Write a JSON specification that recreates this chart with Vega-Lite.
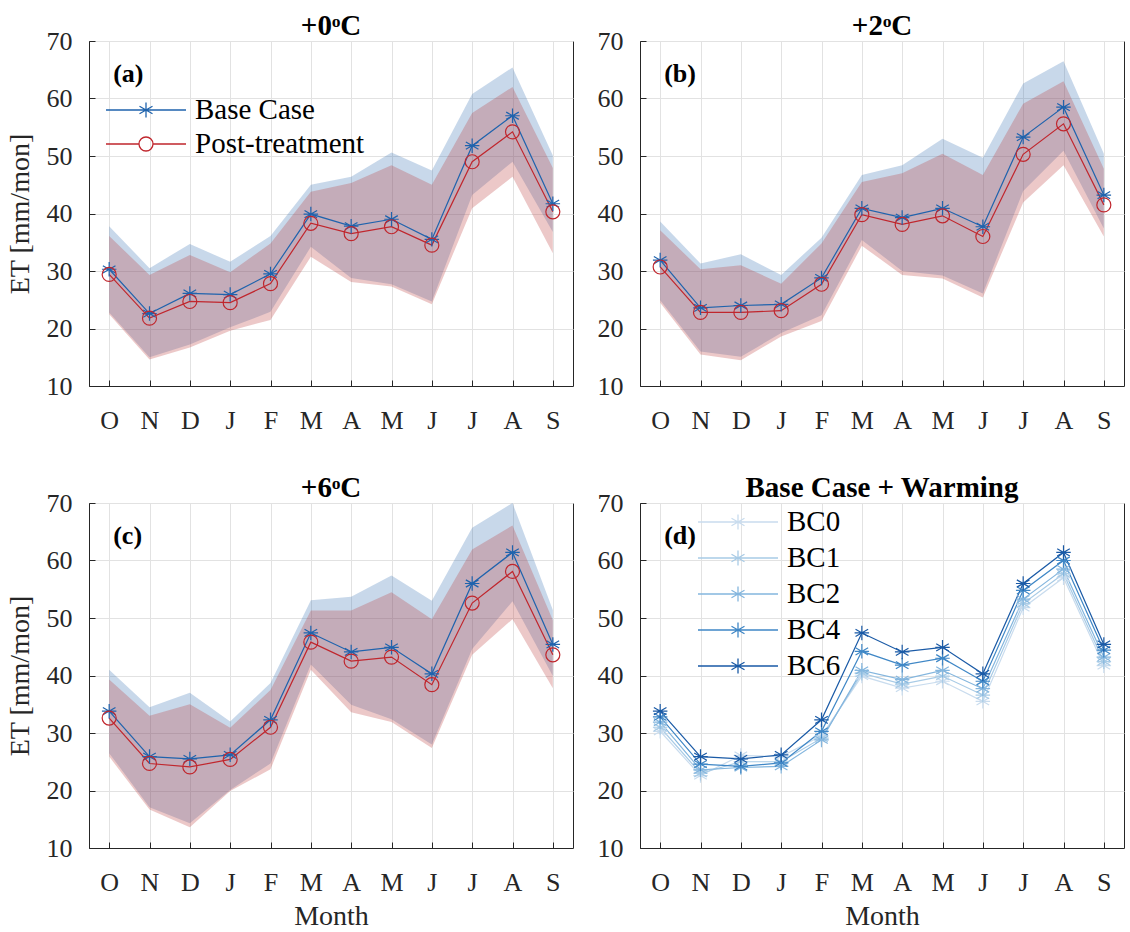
{
  "$schema": "https://vega.github.io/schema/vega-lite/v6.json",
  "padding": {"left": 5, "top": 11, "right": 5, "bottom": 0},
  "background": "white",
  "config": {
    "font": "Liberation Serif",
    "view": {"stroke": "#262626", "strokeWidth": 1},
    "axis": {
      "labelFont": "Liberation Serif", "labelFontSize": 26, "labelColor": "#262626",
      "titleFont": "Liberation Serif", "titleFontSize": 28, "titleFontWeight": "normal", "titleColor": "#262626",
      "domainColor": "#262626", "tickColor": "#262626", "tickSize": -6,
      "gridColor": "#e2e2e2", "gridWidth": 1
    },
    "axisX": {"labelPadding": 27},
    "axisY": {"labelPadding": 23},
    "title": {"font": "Liberation Serif", "fontSize": 29, "fontWeight": "bold", "color": "#000000", "offset": -13, "frame": "group"},
    "legend": {"labelFont": "Liberation Serif, Times New Roman, serif", "labelFontSize": 29, "labelColor": "#000000", "labelLimit": 400, "symbolStrokeWidth": 1.2, "symbolOpacity": 1}
  },
  "datasets": {
    "main": [
      {"p":"a","s":"Base Case","m":1,"v":30.3,"lo":22.8,"hi":37.8},
      {"p":"a","s":"Base Case","m":2,"v":22.6,"lo":15.0,"hi":30.5},
      {"p":"a","s":"Base Case","m":3,"v":26.1,"lo":17.2,"hi":34.7},
      {"p":"a","s":"Base Case","m":4,"v":25.9,"lo":20.2,"hi":31.6},
      {"p":"a","s":"Base Case","m":5,"v":29.5,"lo":22.9,"hi":36.1},
      {"p":"a","s":"Base Case","m":6,"v":39.9,"lo":34.2,"hi":45.0},
      {"p":"a","s":"Base Case","m":7,"v":37.8,"lo":28.8,"hi":46.4},
      {"p":"a","s":"Base Case","m":8,"v":39.0,"lo":27.7,"hi":50.6},
      {"p":"a","s":"Base Case","m":9,"v":35.5,"lo":24.7,"hi":47.5},
      {"p":"a","s":"Base Case","m":10,"v":51.8,"lo":43.2,"hi":60.8},
      {"p":"a","s":"Base Case","m":11,"v":57.0,"lo":49.0,"hi":65.4},
      {"p":"a","s":"Base Case","m":12,"v":41.7,"lo":36.8,"hi":50.1},
      {"p":"a","s":"Post-treatment","m":1,"v":29.4,"lo":22.5,"hi":36.1},
      {"p":"a","s":"Post-treatment","m":2,"v":21.8,"lo":14.6,"hi":29.3},
      {"p":"a","s":"Post-treatment","m":3,"v":24.7,"lo":16.7,"hi":32.8},
      {"p":"a","s":"Post-treatment","m":4,"v":24.5,"lo":19.6,"hi":29.8},
      {"p":"a","s":"Post-treatment","m":5,"v":27.8,"lo":21.5,"hi":34.8},
      {"p":"a","s":"Post-treatment","m":6,"v":38.3,"lo":32.5,"hi":43.8},
      {"p":"a","s":"Post-treatment","m":7,"v":36.5,"lo":28.1,"hi":45.3},
      {"p":"a","s":"Post-treatment","m":8,"v":37.7,"lo":27.3,"hi":48.4},
      {"p":"a","s":"Post-treatment","m":9,"v":34.5,"lo":24.2,"hi":45.0},
      {"p":"a","s":"Post-treatment","m":10,"v":49.0,"lo":40.9,"hi":57.5},
      {"p":"a","s":"Post-treatment","m":11,"v":54.2,"lo":46.4,"hi":62.0},
      {"p":"a","s":"Post-treatment","m":12,"v":40.3,"lo":33.1,"hi":47.9},
      {"p":"b","s":"Base Case","m":1,"v":31.9,"lo":24.9,"hi":38.6},
      {"p":"b","s":"Base Case","m":2,"v":23.6,"lo":16.0,"hi":31.3},
      {"p":"b","s":"Base Case","m":3,"v":24.0,"lo":15.1,"hi":32.9},
      {"p":"b","s":"Base Case","m":4,"v":24.2,"lo":19.2,"hi":29.3},
      {"p":"b","s":"Base Case","m":5,"v":28.8,"lo":22.3,"hi":35.8},
      {"p":"b","s":"Base Case","m":6,"v":40.9,"lo":35.4,"hi":46.7},
      {"p":"b","s":"Base Case","m":7,"v":39.3,"lo":30.0,"hi":48.4},
      {"p":"b","s":"Base Case","m":8,"v":40.9,"lo":29.2,"hi":53.0},
      {"p":"b","s":"Base Case","m":9,"v":37.7,"lo":26.1,"hi":49.7},
      {"p":"b","s":"Base Case","m":10,"v":53.3,"lo":43.9,"hi":62.6},
      {"p":"b","s":"Base Case","m":11,"v":58.5,"lo":50.9,"hi":66.5},
      {"p":"b","s":"Base Case","m":12,"v":43.2,"lo":37.4,"hi":50.4},
      {"p":"b","s":"Post-treatment","m":1,"v":30.7,"lo":24.5,"hi":37.1},
      {"p":"b","s":"Post-treatment","m":2,"v":22.8,"lo":15.5,"hi":30.3},
      {"p":"b","s":"Post-treatment","m":3,"v":22.8,"lo":14.5,"hi":31.0},
      {"p":"b","s":"Post-treatment","m":4,"v":23.1,"lo":18.6,"hi":27.8},
      {"p":"b","s":"Post-treatment","m":5,"v":27.7,"lo":21.3,"hi":34.8},
      {"p":"b","s":"Post-treatment","m":6,"v":39.8,"lo":34.4,"hi":45.5},
      {"p":"b","s":"Post-treatment","m":7,"v":38.1,"lo":29.3,"hi":47.0},
      {"p":"b","s":"Post-treatment","m":8,"v":39.6,"lo":28.7,"hi":50.4},
      {"p":"b","s":"Post-treatment","m":9,"v":36.0,"lo":25.4,"hi":46.7},
      {"p":"b","s":"Post-treatment","m":10,"v":50.3,"lo":41.9,"hi":59.1},
      {"p":"b","s":"Post-treatment","m":11,"v":55.6,"lo":48.4,"hi":63.0},
      {"p":"b","s":"Post-treatment","m":12,"v":41.5,"lo":36.0,"hi":47.8},
      {"p":"c","s":"Base Case","m":1,"v":33.8,"lo":26.5,"hi":41.0},
      {"p":"c","s":"Base Case","m":2,"v":25.9,"lo":17.1,"hi":34.5},
      {"p":"c","s":"Base Case","m":3,"v":25.5,"lo":14.3,"hi":37.0},
      {"p":"c","s":"Base Case","m":4,"v":26.2,"lo":20.1,"hi":32.0},
      {"p":"c","s":"Base Case","m":5,"v":32.3,"lo":24.7,"hi":38.7},
      {"p":"c","s":"Base Case","m":6,"v":47.4,"lo":41.9,"hi":53.1},
      {"p":"c","s":"Base Case","m":7,"v":44.1,"lo":34.9,"hi":53.7},
      {"p":"c","s":"Base Case","m":8,"v":44.9,"lo":32.4,"hi":57.4},
      {"p":"c","s":"Base Case","m":9,"v":40.3,"lo":28.0,"hi":53.0},
      {"p":"c","s":"Base Case","m":10,"v":56.0,"lo":44.6,"hi":65.7},
      {"p":"c","s":"Base Case","m":11,"v":61.4,"lo":52.9,"hi":70.0},
      {"p":"c","s":"Base Case","m":12,"v":45.4,"lo":39.9,"hi":51.4},
      {"p":"c","s":"Post-treatment","m":1,"v":32.6,"lo":25.9,"hi":39.3},
      {"p":"c","s":"Post-treatment","m":2,"v":24.7,"lo":16.7,"hi":33.0},
      {"p":"c","s":"Post-treatment","m":3,"v":24.1,"lo":13.6,"hi":35.0},
      {"p":"c","s":"Post-treatment","m":4,"v":25.4,"lo":19.9,"hi":30.9},
      {"p":"c","s":"Post-treatment","m":5,"v":31.0,"lo":23.7,"hi":37.5},
      {"p":"c","s":"Post-treatment","m":6,"v":45.8,"lo":41.0,"hi":51.3},
      {"p":"c","s":"Post-treatment","m":7,"v":42.5,"lo":33.6,"hi":51.3},
      {"p":"c","s":"Post-treatment","m":8,"v":43.2,"lo":31.9,"hi":54.5},
      {"p":"c","s":"Post-treatment","m":9,"v":38.4,"lo":27.4,"hi":49.8},
      {"p":"c","s":"Post-treatment","m":10,"v":52.6,"lo":43.6,"hi":61.9},
      {"p":"c","s":"Post-treatment","m":11,"v":58.1,"lo":49.8,"hi":66.1},
      {"p":"c","s":"Post-treatment","m":12,"v":43.6,"lo":37.8,"hi":49.6}
    ],
    "warm": [
      {"s":"BC0","m":1,"v":30.3},{"s":"BC0","m":2,"v":22.6},{"s":"BC0","m":3,"v":26.1},{"s":"BC0","m":4,"v":25.9},
      {"s":"BC0","m":5,"v":29.5},{"s":"BC0","m":6,"v":39.9},{"s":"BC0","m":7,"v":37.8},{"s":"BC0","m":8,"v":39.0},
      {"s":"BC0","m":9,"v":35.5},{"s":"BC0","m":10,"v":51.8},{"s":"BC0","m":11,"v":57.0},{"s":"BC0","m":12,"v":41.7},
      {"s":"BC1","m":1,"v":31.0},{"s":"BC1","m":2,"v":23.0},{"s":"BC1","m":3,"v":25.0},{"s":"BC1","m":4,"v":25.0},
      {"s":"BC1","m":5,"v":29.1},{"s":"BC1","m":6,"v":40.4},{"s":"BC1","m":7,"v":38.5},{"s":"BC1","m":8,"v":39.9},
      {"s":"BC1","m":9,"v":36.6},{"s":"BC1","m":10,"v":52.5},{"s":"BC1","m":11,"v":57.7},{"s":"BC1","m":12,"v":42.4},
      {"s":"BC2","m":1,"v":31.9},{"s":"BC2","m":2,"v":23.6},{"s":"BC2","m":3,"v":24.0},{"s":"BC2","m":4,"v":24.2},
      {"s":"BC2","m":5,"v":28.8},{"s":"BC2","m":6,"v":40.9},{"s":"BC2","m":7,"v":39.3},{"s":"BC2","m":8,"v":40.9},
      {"s":"BC2","m":9,"v":37.7},{"s":"BC2","m":10,"v":53.3},{"s":"BC2","m":11,"v":58.5},{"s":"BC2","m":12,"v":43.2},
      {"s":"BC4","m":1,"v":32.8},{"s":"BC4","m":2,"v":24.6},{"s":"BC4","m":3,"v":24.2},{"s":"BC4","m":4,"v":24.8},
      {"s":"BC4","m":5,"v":30.3},{"s":"BC4","m":6,"v":44.2},{"s":"BC4","m":7,"v":41.8},{"s":"BC4","m":8,"v":43.0},
      {"s":"BC4","m":9,"v":39.0},{"s":"BC4","m":10,"v":54.8},{"s":"BC4","m":11,"v":60.0},{"s":"BC4","m":12,"v":44.4},
      {"s":"BC6","m":1,"v":33.8},{"s":"BC6","m":2,"v":25.9},{"s":"BC6","m":3,"v":25.5},{"s":"BC6","m":4,"v":26.2},
      {"s":"BC6","m":5,"v":32.3},{"s":"BC6","m":6,"v":47.4},{"s":"BC6","m":7,"v":44.1},{"s":"BC6","m":8,"v":44.9},
      {"s":"BC6","m":9,"v":40.3},{"s":"BC6","m":10,"v":56.0},{"s":"BC6","m":11,"v":61.4},{"s":"BC6","m":12,"v":45.4}
    ]
  },
  "columns": 2,
  "spacing": {"column": 22, "row": 39},
  "resolve": {
    "scale": {"stroke": "independent", "fill": "independent", "shape": "independent", "x": "independent", "y": "independent"},
    "legend": {"stroke": "independent", "fill": "independent", "shape": "independent"},
    "axis": {"x": "independent", "y": "independent"}
  },
  "concat": [
    {
      "width": 484, "height": 345,
      "title": "+0ᵒC",
      "resolve": {"scale": {"stroke": "independent"}, "legend": {"stroke": "independent"}},
      "layer": [
        {"data": {"name": "main"}, "transform": [{"filter": "datum.p == 'a'"}],
         "mark": {"type": "area", "fillOpacity": 0.28, "strokeWidth": 0},
         "encoding": {
           "x": {"field": "m", "type": "quantitative", "scale": {"domain": [0.5, 12.5], "nice": false},
             "axis": {"values": [1,2,3,4,5,6,7,8,9,10,11,12], "labelExpr": "['O','N','D','J','F','M','A','M','J','J','A','S'][datum.value-1]", "title": null, "grid": true}},
           "y": {"field": "lo", "type": "quantitative", "scale": {"domain": [10, 70], "nice": false}, "axis": {"values": [10,20,30,40,50,60,70], "title": "ET [mm/mon]", "titlePadding": 12}},
           "y2": {"field": "hi"},
           "fill": {"field": "s", "type": "nominal", "scale": {"domain": ["Base Case", "Post-treatment"], "range": ["#3a74b4", "#bb3b3b"]}, "legend": null}}},
        {"data": {"name": "main"}, "transform": [{"filter": "datum.p == 'a' && datum.s == 'Base Case'"}],
         "mark": {"type": "line", "strokeWidth": 1.2},
         "encoding": {
           "x": {"field": "m", "type": "quantitative"},
           "y": {"field": "v", "type": "quantitative", "axis": {"title": "ET [mm/mon]"}},
           "stroke": {"field": "s", "type": "nominal", "scale": {"domain": ["Base Case"], "range": ["#1f63ad"]},
             "legend": {"title": null, "orient": "none", "legendX": 36, "legendY": 48, "symbolSize": 1600, "labelOffset": 28, "symbolFillColor": "transparent", "symbolOpacity": 1, "symbolStrokeWidth": 1.3,
               "labelFont": "Liberation Serif, Times New Roman, serif", "labelFontSize": 29, "labelColor": "#000000", "labelLimit": 400,
               "symbolType": "M-2,0H2M0,-0.375V0.375M-0.325,-0.19L0.325,0.19M-0.325,0.19L0.325,-0.19"}}}},
        {"data": {"name": "main"}, "transform": [{"filter": "datum.p == 'a' && datum.s == 'Post-treatment'"}],
         "mark": {"type": "line", "strokeWidth": 1.2},
         "encoding": {
           "x": {"field": "m", "type": "quantitative"},
           "y": {"field": "v", "type": "quantitative", "axis": {"title": "ET [mm/mon]"}},
           "stroke": {"field": "s", "type": "nominal", "scale": {"domain": ["Post-treatment"], "range": ["#c0262d"]},
             "legend": {"title": null, "orient": "none", "legendX": 36, "legendY": 82, "symbolSize": 1600, "labelOffset": 28, "symbolFillColor": "transparent", "symbolOpacity": 1, "symbolStrokeWidth": 1.3,
               "labelFont": "Liberation Serif, Times New Roman, serif", "labelFontSize": 29, "labelColor": "#000000", "labelLimit": 400,
               "symbolType": "M-2,0H-0.35M0.35,0H2M0.35,0A0.35,0.35 0 1,1 -0.35,0A0.35,0.35 0 1,1 0.35,0"}}}},
        {"data": {"name": "main"}, "transform": [{"filter": "datum.p == 'a' && datum.s == 'Base Case'"}],
         "mark": {"type": "point", "filled": false, "strokeWidth": 1.2, "opacity": 1, "size": 210, "color": "#1f63ad", "shape": "M0,-1V1M-0.87,-0.5L0.87,0.5M-0.87,0.5L0.87,-0.5M-1,0H1"},
         "encoding": {
           "x": {"field": "m", "type": "quantitative"},
           "y": {"field": "v", "type": "quantitative", "axis": {"title": "ET [mm/mon]"}}}},
        {"data": {"name": "main"}, "transform": [{"filter": "datum.p == 'a' && datum.s == 'Post-treatment'"}],
         "mark": {"type": "point", "filled": false, "strokeWidth": 1.2, "opacity": 1, "size": 196, "color": "#c0262d", "shape": "circle"},
         "encoding": {
           "x": {"field": "m", "type": "quantitative"},
           "y": {"field": "v", "type": "quantitative", "axis": {"title": "ET [mm/mon]"}}}},
        {"data": {"values": [{}]},
         "mark": {"type": "text", "text": "(a)", "fontWeight": "bold", "fontSize": 26, "align": "left", "baseline": "middle", "font": "Liberation Serif"},
         "encoding": {"x": {"datum": 1.1, "type": "quantitative"}, "y": {"datum": 64.3, "type": "quantitative"}}}
      ]
    },
    {
      "width": 484, "height": 345,
      "title": "+2ᵒC",
      "layer": [
        {"data": {"name": "main"}, "transform": [{"filter": "datum.p == 'b'"}],
         "mark": {"type": "area", "fillOpacity": 0.28, "strokeWidth": 0},
         "encoding": {
           "x": {"field": "m", "type": "quantitative", "scale": {"domain": [0.5, 12.5], "nice": false},
             "axis": {"values": [1,2,3,4,5,6,7,8,9,10,11,12], "labelExpr": "['O','N','D','J','F','M','A','M','J','J','A','S'][datum.value-1]", "title": null, "grid": true}},
           "y": {"field": "lo", "type": "quantitative", "scale": {"domain": [10, 70], "nice": false}, "axis": {"values": [10,20,30,40,50,60,70], "title": null}},
           "y2": {"field": "hi"},
           "fill": {"field": "s", "type": "nominal", "scale": {"domain": ["Base Case", "Post-treatment"], "range": ["#3a74b4", "#bb3b3b"]}, "legend": null}}},
        {"data": {"name": "main"}, "transform": [{"filter": "datum.p == 'b'"}],
         "mark": {"type": "line", "strokeWidth": 1.2},
         "encoding": {
           "x": {"field": "m", "type": "quantitative"},
           "y": {"field": "v", "type": "quantitative", "axis": {"title": null}},
           "stroke": {"field": "s", "type": "nominal", "scale": {"domain": ["Base Case", "Post-treatment"], "range": ["#1f63ad", "#c0262d"]}, "legend": null}}},
        {"data": {"name": "main"}, "transform": [{"filter": "datum.p == 'b' && datum.s == 'Base Case'"}],
         "mark": {"type": "point", "filled": false, "strokeWidth": 1.2, "opacity": 1, "size": 210, "color": "#1f63ad", "shape": "M0,-1V1M-0.87,-0.5L0.87,0.5M-0.87,0.5L0.87,-0.5M-1,0H1"},
         "encoding": {
           "x": {"field": "m", "type": "quantitative"},
           "y": {"field": "v", "type": "quantitative", "axis": {"title": null}}}},
        {"data": {"name": "main"}, "transform": [{"filter": "datum.p == 'b' && datum.s == 'Post-treatment'"}],
         "mark": {"type": "point", "filled": false, "strokeWidth": 1.2, "opacity": 1, "size": 196, "color": "#c0262d", "shape": "circle"},
         "encoding": {
           "x": {"field": "m", "type": "quantitative"},
           "y": {"field": "v", "type": "quantitative", "axis": {"title": null}}}},
        {"data": {"values": [{}]},
         "mark": {"type": "text", "text": "(b)", "fontWeight": "bold", "fontSize": 26, "align": "left", "baseline": "middle", "font": "Liberation Serif"},
         "encoding": {"x": {"datum": 1.1, "type": "quantitative"}, "y": {"datum": 64.3, "type": "quantitative"}}}
      ]
    },
    {
      "width": 484, "height": 345,
      "title": "+6ᵒC",
      "layer": [
        {"data": {"name": "main"}, "transform": [{"filter": "datum.p == 'c'"}],
         "mark": {"type": "area", "fillOpacity": 0.28, "strokeWidth": 0},
         "encoding": {
           "x": {"field": "m", "type": "quantitative", "scale": {"domain": [0.5, 12.5], "nice": false},
             "axis": {"values": [1,2,3,4,5,6,7,8,9,10,11,12], "labelExpr": "['O','N','D','J','F','M','A','M','J','J','A','S'][datum.value-1]", "title": "Month", "titlePadding": 7, "grid": true}},
           "y": {"field": "lo", "type": "quantitative", "scale": {"domain": [10, 70], "nice": false}, "axis": {"values": [10,20,30,40,50,60,70], "title": "ET [mm/mon]", "titlePadding": 12}},
           "y2": {"field": "hi"},
           "fill": {"field": "s", "type": "nominal", "scale": {"domain": ["Base Case", "Post-treatment"], "range": ["#3a74b4", "#bb3b3b"]}, "legend": null}}},
        {"data": {"name": "main"}, "transform": [{"filter": "datum.p == 'c'"}],
         "mark": {"type": "line", "strokeWidth": 1.2},
         "encoding": {
           "x": {"field": "m", "type": "quantitative", "axis": {"title": "Month"}},
           "y": {"field": "v", "type": "quantitative", "axis": {"title": "ET [mm/mon]"}},
           "stroke": {"field": "s", "type": "nominal", "scale": {"domain": ["Base Case", "Post-treatment"], "range": ["#1f63ad", "#c0262d"]}, "legend": null}}},
        {"data": {"name": "main"}, "transform": [{"filter": "datum.p == 'c' && datum.s == 'Base Case'"}],
         "mark": {"type": "point", "filled": false, "strokeWidth": 1.2, "opacity": 1, "size": 210, "color": "#1f63ad", "shape": "M0,-1V1M-0.87,-0.5L0.87,0.5M-0.87,0.5L0.87,-0.5M-1,0H1"},
         "encoding": {
           "x": {"field": "m", "type": "quantitative", "axis": {"title": "Month"}},
           "y": {"field": "v", "type": "quantitative", "axis": {"title": "ET [mm/mon]"}}}},
        {"data": {"name": "main"}, "transform": [{"filter": "datum.p == 'c' && datum.s == 'Post-treatment'"}],
         "mark": {"type": "point", "filled": false, "strokeWidth": 1.2, "opacity": 1, "size": 196, "color": "#c0262d", "shape": "circle"},
         "encoding": {
           "x": {"field": "m", "type": "quantitative", "axis": {"title": "Month"}},
           "y": {"field": "v", "type": "quantitative", "axis": {"title": "ET [mm/mon]"}}}},
        {"data": {"values": [{}]},
         "mark": {"type": "text", "text": "(c)", "fontWeight": "bold", "fontSize": 26, "align": "left", "baseline": "middle", "font": "Liberation Serif"},
         "encoding": {"x": {"datum": 1.1, "type": "quantitative"}, "y": {"datum": 64.3, "type": "quantitative"}}}
      ]
    },
    {
      "width": 484, "height": 345,
      "title": "Base Case + Warming",
      "layer": [
        {"data": {"name": "warm"},
         "mark": {"type": "line", "strokeWidth": 1.2},
         "encoding": {
           "x": {"field": "m", "type": "quantitative", "scale": {"domain": [0.5, 12.5], "nice": false},
             "axis": {"values": [1,2,3,4,5,6,7,8,9,10,11,12], "labelExpr": "['O','N','D','J','F','M','A','M','J','J','A','S'][datum.value-1]", "title": "Month", "titlePadding": 7, "grid": true}},
           "y": {"field": "v", "type": "quantitative", "scale": {"domain": [10, 70], "nice": false}, "axis": {"values": [10,20,30,40,50,60,70], "title": null}},
           "stroke": {"field": "s", "type": "nominal", "scale": {"domain": ["BC0","BC1","BC2","BC4","BC6"], "range": ["#c9dcee","#a8cbe6","#84b6de","#3f87c6","#1a5aa6"]},
             "legend": {"title": null, "orient": "none", "legendX": 77, "legendY": -2, "symbolSize": 1600, "labelOffset": 28, "rowPadding": -6, "symbolFillColor": "transparent", "symbolOpacity": 1, "symbolStrokeWidth": 1.3,
               "labelFont": "Liberation Serif, Times New Roman, serif", "labelFontSize": 29, "labelColor": "#000000", "labelLimit": 400,
               "symbolType": "M-2,0H2M0,-0.375V0.375M-0.325,-0.19L0.325,0.19M-0.325,0.19L0.325,-0.19"}}}},
        {"data": {"name": "warm"},
         "mark": {"type": "point", "filled": false, "strokeWidth": 1.2, "opacity": 1, "size": 210, "shape": "M0,-1V1M-0.87,-0.5L0.87,0.5M-0.87,0.5L0.87,-0.5M-1,0H1"},
         "encoding": {
           "x": {"field": "m", "type": "quantitative", "axis": {"title": "Month"}},
           "y": {"field": "v", "type": "quantitative", "axis": {"title": null}},
           "stroke": {"field": "s", "type": "nominal", "scale": {"domain": ["BC0","BC1","BC2","BC4","BC6"], "range": ["#c9dcee","#a8cbe6","#84b6de","#3f87c6","#1a5aa6"]}}}},
        {"data": {"values": [{}]},
         "mark": {"type": "text", "text": "(d)", "fontWeight": "bold", "fontSize": 26, "align": "left", "baseline": "middle", "font": "Liberation Serif"},
         "encoding": {"x": {"datum": 1.1, "type": "quantitative"}, "y": {"datum": 64.3, "type": "quantitative"}}}
      ]
    }
  ]
}
